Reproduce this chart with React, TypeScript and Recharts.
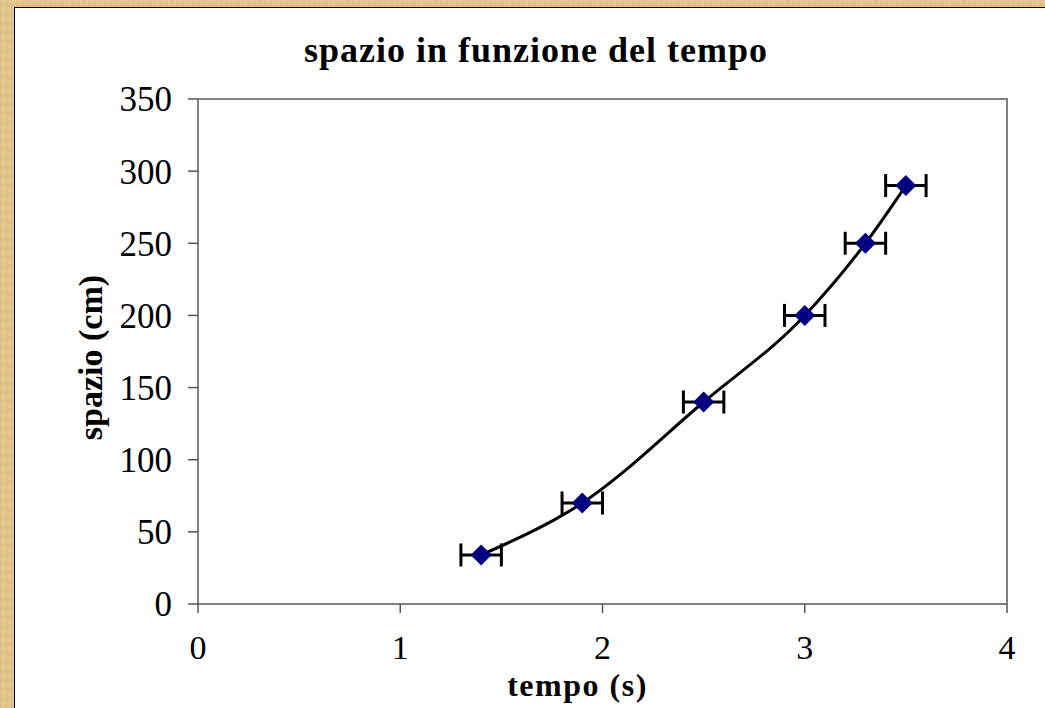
import {
  ComposedChart,
  Scatter,
  Line,
  XAxis,
  YAxis,
  ErrorBar,
  ReferenceArea,
  Label,
} from "recharts";

const tempo = [1.4, 1.9, 2.5, 3.0, 3.3, 3.5];
const spazio = [34, 70, 140, 200, 250, 290];
const erroreTempo = [0.1, 0.1, 0.1, 0.1, 0.1, 0.1];
const xTicks = [0, 1, 2, 3, 4];
const yTicks = [0, 50, 100, 150, 200, 250, 300, 350];

const data = tempo.map((t, i) => ({
  tempo: t,
  spazio: spazio[i],
  err: erroreTempo[i],
}));

const serif = "'Liberation Serif', 'Times New Roman', serif";

const Diamond = (props: any) => {
  const { cx, cy } = props;
  const r = 10.5;
  return (
    <polygon
      points={`${cx},${cy - r} ${cx + r},${cy} ${cx},${cy + r} ${cx - r},${cy}`}
      fill="#000080"
    />
  );
};

const paper =
  "repeating-linear-gradient(90deg, rgba(160,110,40,0.12) 0px, rgba(255,240,200,0.10) 3px, rgba(160,110,40,0.07) 7px, rgba(255,240,200,0.14) 11px), " +
  "repeating-linear-gradient(0deg, rgba(170,120,50,0.10) 0px, rgba(255,245,210,0.08) 5px, rgba(170,120,50,0.06) 9px), #E4C68C";

export default function App() {
  return (
    <div
      style={{
        position: "absolute",
        left: 0,
        top: 0,
        width: 1045,
        height: 708,
        overflow: "hidden",
        background: paper,
      }}
    >
      <div
        style={{
          position: "absolute",
          left: 14,
          top: 7,
          width: 1040,
          height: 710,
          background: "#fff",
          borderLeft: "1px solid #000",
          borderTop: "1px solid #000",
        }}
      />
      <div
        style={{
          position: "absolute",
          left: 236,
          top: 32,
          width: 600,
          textAlign: "center",
          fontFamily: serif,
          fontWeight: "bold",
          fontSize: 36,
          lineHeight: "36px",
          letterSpacing: 1,
          color: "#000",
        }}
      >
        spazio in funzione del tempo
      </div>
      <div style={{ position: "absolute", left: 0, top: 0 }}>
        <ComposedChart
          width={1045}
          height={708}
          data={data}
          margin={{ top: 99, right: 38, bottom: 4, left: 98 }}
        >
          <ReferenceArea
            x1={0}
            x2={4}
            y1={0}
            y2={350}
            fill="none"
            stroke="#808080"
            strokeWidth={2}
          />
          <XAxis
            dataKey="tempo"
            type="number"
            domain={[0, 4]}
            ticks={xTicks}
            height={100}
            tickSize={9}
            tickMargin={22}
            axisLine={{ stroke: "#808080", strokeWidth: 2 }}
            tickLine={{ stroke: "#555", strokeWidth: 1.5 }}
            tick={{ fill: "#000", fontSize: 34, fontFamily: serif }}
          >
            <Label
              content={(p: any) => {
                const vb = p.viewBox;
                return (
                  <text
                    x={vb.x + vb.width / 2 - 25}
                    y={vb.y + 92}
                    textAnchor="middle"
                    fontFamily={serif}
                    fontWeight="bold"
                    fontSize={32}
                    letterSpacing={1.5}
                    fill="#000"
                  >
                    tempo (s)
                  </text>
                );
              }}
            />
          </XAxis>
          <YAxis
            type="number"
            domain={[0, 350]}
            ticks={yTicks}
            width={100}
            tickSize={10}
            tickMargin={16}
            axisLine={{ stroke: "#808080", strokeWidth: 2 }}
            tickLine={{ stroke: "#555", strokeWidth: 1.5 }}
            tick={{ fill: "#000", fontSize: 35, fontFamily: serif }}
          >
            <Label
              content={(p: any) => {
                const vb = p.viewBox;
                const x = vb.x + 4;
                const y = vb.y + vb.height / 2 + 6;
                return (
                  <text
                    x={x}
                    y={y}
                    transform={`rotate(-90, ${x}, ${y})`}
                    textAnchor="middle"
                    fontFamily={serif}
                    fontWeight="bold"
                    fontSize={34}
                    fill="#000"
                  >
                    spazio (cm)
                  </text>
                );
              }}
            />
          </YAxis>
          <Scatter
            dataKey="spazio"
            shape={Diamond}
            isAnimationActive={false}
          >
            <ErrorBar
              dataKey="err"
              direction="x"
              width={11.5}
              stroke="#000"
              strokeWidth={3}
            />
          </Scatter>
          <Line
            dataKey="spazio"
            type="monotone"
            stroke="#000"
            strokeWidth={3}
            dot={false}
            activeDot={false}
            isAnimationActive={false}
          />
        </ComposedChart>
      </div>
    </div>
  );
}
